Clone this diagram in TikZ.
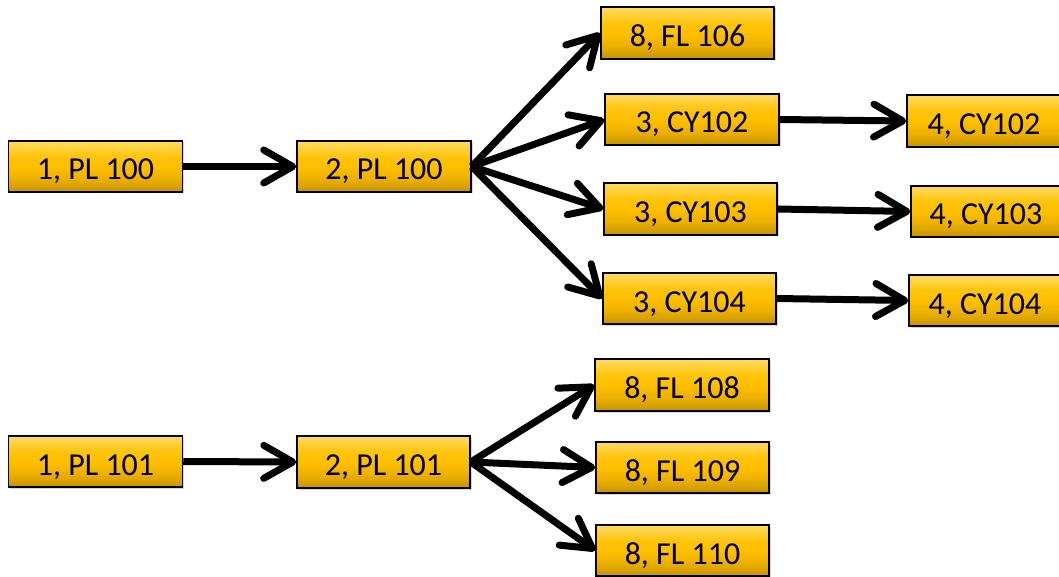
\documentclass[tikz,border=0pt]{standalone}
\usepackage{fontspec}
\setmainfont{Carlito}
\usetikzlibrary{arrows.meta,shadows}
\pgfdeclareverticalshading{boxshade}{100bp}{%
  rgb(0bp)=(0.77,0.58,0.0); rgb(25bp)=(0.77,0.58,0.0); rgb(38bp)=(0.93,0.69,0.0);
  rgb(50bp)=(1,0.75,0.0); rgb(60bp)=(1,0.77,0.05); rgb(75bp)=(1,0.86,0.40); rgb(100bp)=(1,0.86,0.40)}
\tikzset{
  boxx/.style={rectangle, draw=black, line width=1.5pt, shading=boxshade,
    minimum height=51pt, inner sep=0pt, text height=27pt, text depth=0pt, font=\fontsize{32}{36}\selectfont,
    drop shadow={shadow xshift=1.5pt, shadow yshift=-1.5pt, opacity=0.3, fill=gray}},
  arr/.style={line width=7pt, -{Straight Barb[length=29pt,width=33pt,line cap=round,line join=round]}}
}
\begin{document}
\begin{tikzpicture}[x=1pt,y=-1pt]
\clip (0,0) rectangle (1059,577);
\fill[white] (0,0) rectangle (1059,577);
\node[boxx, minimum width=174pt] (a1) at (95.5,166.5) {1, PL 100};
\node[boxx, minimum width=174pt] (a2) at (384,166.5) {2, PL 100};
\node[boxx, minimum width=173pt, minimum height=52pt] (b1) at (687.5,33) {8, FL 106};
\node[boxx, minimum width=174pt] (b2) at (692,119.5) {3, CY102};
\node[boxx, minimum width=173pt, minimum height=52pt] (b3) at (690.5,209) {3, CY103};
\node[boxx, minimum width=173pt] (b4) at (689.5,298.5) {3, CY104};
\node[boxx, minimum width=154pt, minimum height=52pt] (c2) at (984,121) {4, CY102};
\node[boxx, minimum width=150pt] (c3) at (986,211.5) {4, CY103};
\node[boxx, minimum width=152pt] (c4) at (985,300.5) {4, CY104};
\node[boxx, minimum width=174pt] (d1) at (95.5,461.5) {1, PL 101};
\node[boxx, minimum width=173pt, minimum height=52pt] (d2) at (383.5,462) {2, PL 101};
\node[boxx, minimum width=174pt, minimum height=52pt] (e1) at (682,385) {8, FL 108};
\node[boxx, minimum width=173pt] (e2) at (682.5,467.5) {8, FL 109};
\node[boxx, minimum width=173pt] (e3) at (682.5,550.5) {8, FL 110};
\draw[arr] (a1.east) -- (a2.west);
\draw[arr] (a2.east) -- (b1.west);
\draw[arr] (a2.east) -- (b2.west);
\draw[arr] (a2.east) -- (b3.west);
\draw[arr] (a2.east) -- (b4.west);
\draw[arr] (b2.east) -- (c2.west);
\draw[arr] (b3.east) -- (c3.west);
\draw[arr] (b4.east) -- (c4.west);
\draw[arr] (d1.east) -- (d2.west);
\draw[arr] (d2.east) -- (e1.west);
\draw[arr] (d2.east) -- (e2.west);
\draw[arr] (d2.east) -- (e3.west);
\end{tikzpicture}
\end{document}
